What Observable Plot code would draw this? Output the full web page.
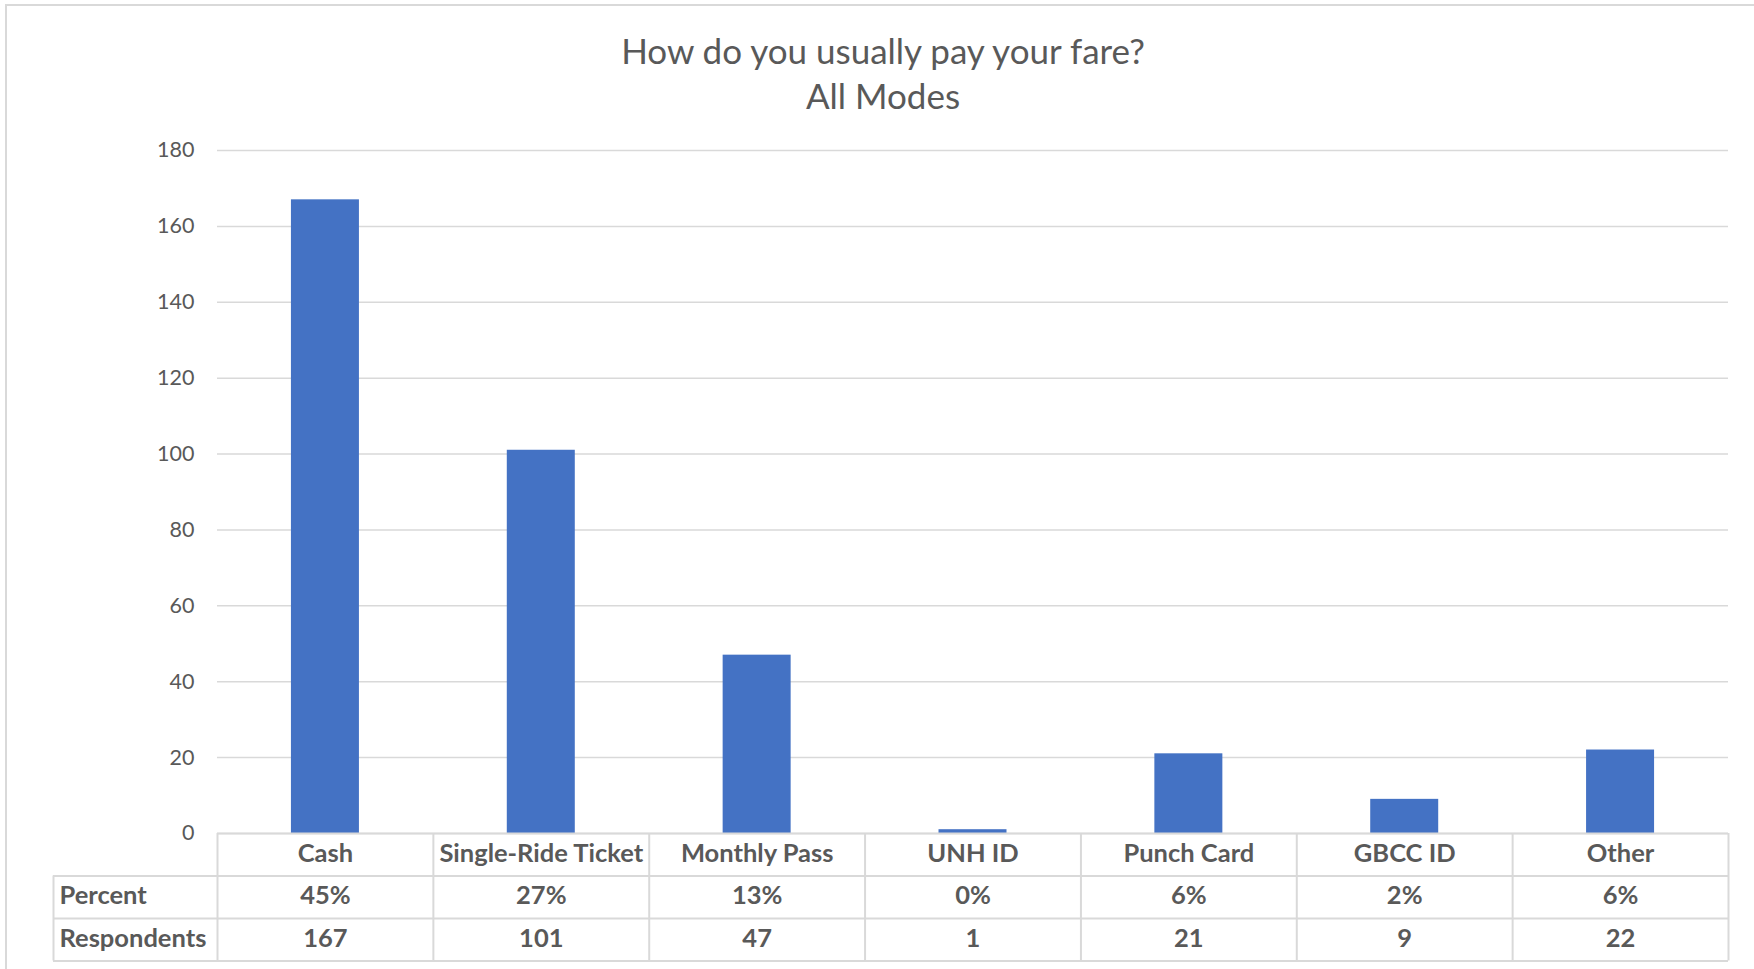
<!DOCTYPE html>
<html>
<head>
<meta charset="utf-8">
<script src="https://cdn.jsdelivr.net/npm/d3@7"></script>
<script src="https://cdn.jsdelivr.net/npm/@observablehq/plot@0.6"></script>
<style>
  html, body { margin: 0; padding: 0; background: #ffffff; overflow: hidden; }
  #chart { position: absolute; left: 0; top: 0; }
  #title {
    position: absolute; left: 6px; top: 27.5px; width: 1754px; text-align: center;
    font-family: Lato, "Open Sans", sans-serif; font-size: 35px; font-weight: 400;
    color: #595959; line-height: 45px;
  }
  #frame {
    position: absolute; left: 5px; top: 4px; width: 1800px; height: 1000px;
    border: 2px solid #d9d9d9; pointer-events: none;
  }
</style>
</head>
<body>
<div id="chart"></div>
<div id="title">How do you usually pay your fare?<br>All Modes</div>
<div id="frame"></div>
<script>
// ---- data ----
const categories = ["Cash", "Single-Ride Ticket", "Monthly Pass", "UNH ID", "Punch Card", "GBCC ID", "Other"];
const respondents = [167, 101, 47, 1, 21, 9, 22];
const percents = ["45%", "27%", "13%", "0%", "6%", "2%", "6%"];
const rowLabels = ["Percent", "Respondents"];
const yTicks = [0, 20, 40, 60, 80, 100, 120, 140, 160, 180];

// ---- layout ----
const W = 1754, H = 969;
const mL = 217, mR = 26, mT = 150, mB = 136;
const step = (W - mL - mR) / categories.length;
const rowH = 42.5;
const labelColLeft = 53;
const labelTextLeft = 59;
const lineColor = "#d9d9d9";
const textColor = "#595959";
const tableFont = 25.5;

const data = categories.map((c, i) => ({category: c, n: respondents[i], pct: percents[i]}));

const hLine = (k, extendLeft) => Plot.ruleY([0], {
  stroke: lineColor, strokeWidth: 2, dy: k * rowH,
  insetLeft: extendLeft ? -(mL - labelColLeft) : 0
});
const rowText = (k, field, label) => [
  Plot.text(data, {
    x: "category", text: field, frameAnchor: "bottom", dy: (k + 0.5) * rowH - 1,
    lineAnchor: "middle", fontSize: tableFont, fontWeight: "bold", fill: textColor
  }),
  Plot.text([label], {
    text: d => d, frameAnchor: "bottom-left", dx: -(mL - labelTextLeft), dy: (k + 0.5) * rowH - 1,
    textAnchor: "start", lineAnchor: "middle", fontSize: tableFont, fontWeight: "bold", fill: textColor
  })
];

const chart = Plot.plot({
  width: W, height: H,
  marginLeft: mL, marginRight: mR, marginTop: mT, marginBottom: mB,
  style: {fontFamily: "Lato, 'Open Sans', sans-serif", color: textColor, background: "transparent"},
  x: {domain: categories, paddingInner: 0.685, paddingOuter: 0.3425, round: false, label: null},
  y: {domain: [0, 180], label: null},
  marks: [
    Plot.gridY(yTicks, {stroke: lineColor, strokeOpacity: 1, strokeWidth: 1.5}),
    Plot.axisY(yTicks, {tickSize: 0, tickPadding: 23, fontSize: 21.5, fill: textColor, label: null}),
    Plot.barY(data, {x: "category", y: "n", fill: "#4472C4"}),
    // table grid
    hLine(0, false),
    hLine(1, true),
    hLine(2, true),
    hLine(3, true),
    Plot.ruleX(categories, {x: d => d, dx: -step / 2, y1: 0, y2: 0, insetBottom: -3 * rowH, stroke: lineColor, strokeWidth: 2}),
    Plot.ruleX([categories[categories.length - 1]], {x: d => d, dx: step / 2, y1: 0, y2: 0, insetBottom: -3 * rowH, stroke: lineColor, strokeWidth: 2}),
    Plot.ruleX([categories[0]], {x: d => d, dx: -step / 2 - (mL - labelColLeft), y1: 0, y2: 0, insetTop: rowH, insetBottom: -3 * rowH, stroke: lineColor, strokeWidth: 2}),
    // category row (x axis)
    Plot.axisX({tickSize: 0, tickPadding: 10.5, fontSize: tableFont, fontWeight: "bold", fill: textColor, label: null}),
    ...rowText(1, "pct", rowLabels[0]),
    ...rowText(2, "n", rowLabels[1])
  ]
});
document.getElementById("chart").appendChild(chart);
</script>
</body>
</html>
